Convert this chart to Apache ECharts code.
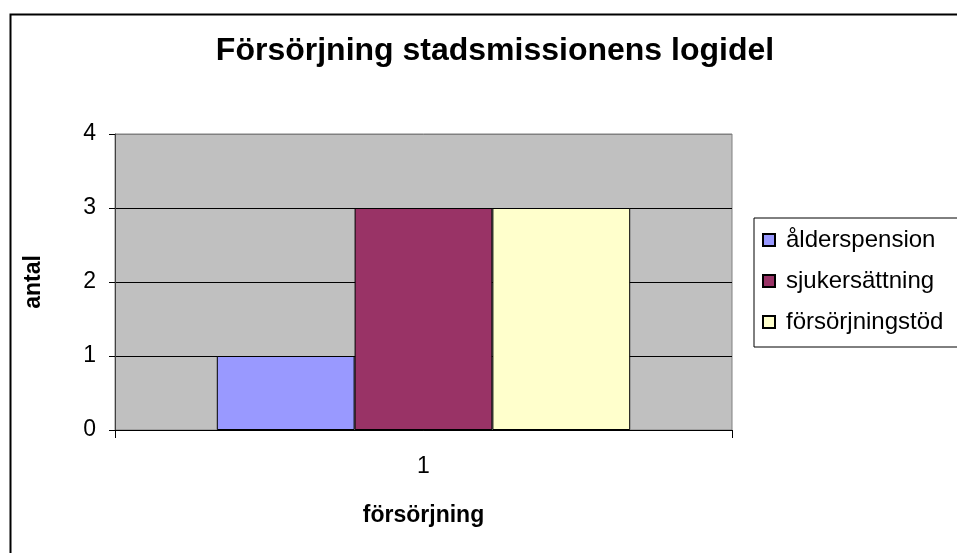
<!DOCTYPE html>
<html>
<head>
<meta charset="utf-8">
<script src="https://cdn.jsdelivr.net/npm/echarts@6/dist/echarts.min.js"></script>
<style>
  html, body { margin: 0; padding: 0; background: #fff; }
  #main { width: 957px; height: 553px; }
</style>
</head>
<body>
<div id="main"></div>
<script>
// data
var categories = ['1'];
var seriesNames = ['ålderspension', 'sjukersättning', 'försörjningstöd'];
var seriesValues = [[1], [3], [3]];
var seriesColors = ['#9999FF', '#993366', '#FFFFCC'];
var yTicks = [0, 1, 2, 3, 4];

var font = '"Liberation Sans", Arial, sans-serif';

var chart = echarts.init(document.getElementById('main'));

var series = seriesNames.map(function (name, i) {
  return {
    name: name,
    type: 'bar',
    data: seriesValues[i],
    barGap: '0%',
    barCategoryGap: '33%',
    itemStyle: { color: seriesColors[i], borderColor: '#000', borderWidth: 1 }
  };
});

chart.setOption({
  animation: false,
  backgroundColor: '#fff',
  title: {
    text: 'Försörjning stadsmissionens logidel',
    left: 490,
    top: 30,
    textAlign: 'center',
    textStyle: { fontFamily: font, fontSize: 32, fontWeight: 'bold', color: '#000' }
  },
  legend: {
    orient: 'vertical',
    left: 754,
    top: 218,
    padding: [10, 20, 13, 8],
    itemWidth: 12,
    itemHeight: 12,
    itemGap: 17,
    borderColor: '#000',
    borderWidth: 1,
    icon: 'rect',
    textStyle: { fontFamily: font, fontSize: 24, color: '#000', padding: [0, 0, 0, 6] },
    data: seriesNames
  },
  grid: {
    left: 115,
    right: 225,
    top: 134,
    bottom: 123,
    show: true,
    backgroundColor: '#C0C0C0',
    borderColor: '#808080',
    borderWidth: 1
  },
  xAxis: {
    type: 'category',
    data: categories,
    name: 'försörjning',
    nameLocation: 'middle',
    nameGap: 74,
    nameTextStyle: { fontFamily: font, fontSize: 23, fontWeight: 'bold', color: '#000' },
    axisLine: { lineStyle: { color: '#000', width: 1 } },
    axisTick: { show: true, length: 8, lineStyle: { color: '#000' } },
    axisLabel: { fontFamily: font, fontSize: 23, color: '#000', margin: 25 },
    splitLine: { show: false }
  },
  yAxis: {
    type: 'value',
    min: yTicks[0],
    max: yTicks[yTicks.length - 1],
    interval: 1,
    name: 'antal',
    nameLocation: 'middle',
    nameGap: 70,
    nameRotate: 90,
    nameTextStyle: { fontFamily: font, fontSize: 23, fontWeight: 'bold', color: '#000' },
    axisLine: { show: true, lineStyle: { color: '#404040', width: 1 } },
    axisTick: { show: true, length: 6, lineStyle: { color: '#000' } },
    axisLabel: { fontFamily: font, fontSize: 23, color: '#000', margin: 19 },
    splitLine: {
      show: true,
      lineStyle: { color: ['#000', '#000', '#000', '#000', '#808080'], width: 1 }
    }
  },
  graphic: [{
    type: 'rect',
    left: 8,
    top: 12,
    shape: { width: 1000, height: 600 },
    style: { fill: 'none', stroke: '#000', lineWidth: 2 },
    silent: true,
    z: 100
  }],
  series: series
});
</script>
</body>
</html>
